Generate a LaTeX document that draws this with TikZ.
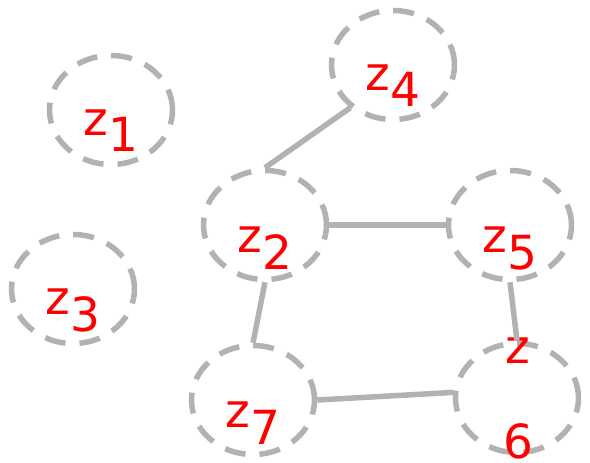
\documentclass[tikz,border=0pt]{standalone}
\usepackage{fontspec}
\setmainfont{DejaVu Sans}
\usepackage{xcolor}
\usetikzlibrary{shapes.geometric}

\definecolor{edgegray}{RGB}{178,178,178}
\newcommand{\zsub}[1]{z\raisebox{-17pt}{#1}}

\begin{document}
\begin{tikzpicture}[x=1pt, y=-1pt]
            \tikzstyle{vert} = [ellipse, draw=edgegray, line width=5.5pt, dash pattern=on 21pt off 14pt,
                                minimum width=123pt, minimum height=109pt, inner sep=0pt]
            \tikzstyle{lbl} = [text=red, font=\fontsize{47}{50}\selectfont, anchor=base, inner sep=0pt]
            \tikzstyle{link} = [draw=edgegray, line width=5.5pt]
            \useasboundingbox (0, 0) rectangle (590, 463);
            % vertices
            \node[vert] (z1) at (111, 110) {};
            \node[vert] (z2) at (265, 225) {};
            \node[vert] (z3) at (73, 289) {};
            \node[vert] (z4) at (393, 65) {};
            \node[vert] (z5) at (510, 225) {};
            \node[vert] (z6) at (517, 398) {};
            \node[vert] (z7) at (253, 400) {};
            % labels
            \node[lbl] (t1) at ([yshift=-25pt]z1.center) {\zsub{1}};
            \node[lbl] (t2) at ([yshift=-27pt]z2.center) {\zsub{2}};
            \node[lbl] (t3) at ([yshift=-25pt]z3.center) {\zsub{3}};
            \node[lbl] (t4) at ([yshift=-25pt]z4.center) {\zsub{4}};
            \node[lbl] (t5) at ([yshift=-27pt]z5.center) {\zsub{5}};
            \node[lbl] (t7) at ([yshift=-27pt]z7.center) {\zsub{7}};
            \node[lbl, align=center, font=\fontsize{47}{95}\selectfont] (t6) at (518, 458) {z\\6};
            % edges
            \draw[link] (z4.225) -- (z2.north);
            \draw[link] (z2.east) -- (z5.west);
            \draw[link] (z2.south) -- (z7.north);
            \draw[link] (z5.south) -- (z6.north);
            \draw[link] (z7.east) -- (z6.175);
        \end{tikzpicture}
\end{document}
